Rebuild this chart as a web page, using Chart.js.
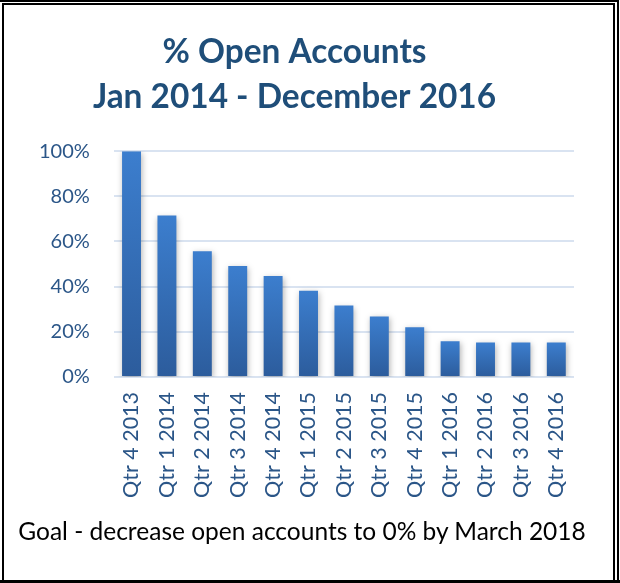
<!DOCTYPE html>
<html>
<head>
<meta charset="utf-8">
<script src="https://cdn.jsdelivr.net/npm/chart.js@4/dist/chart.umd.min.js"></script>
<style>
  html, body { margin: 0; padding: 0; background: #fff; }
  #wrap { position: relative; width: 620px; height: 583px; overflow: hidden; background: #fff; }
  #box { position: absolute; left: 0; top: 0; width: 620px; height: 583px; }
  .ln { position: absolute; background: #000; z-index: 5; }
  #footer { position: absolute; left: 0; width: 604px; top: 516px; text-align: center;
            font-family: Lato, "Open Sans", sans-serif; font-size: 24.5px; color: #000; white-space: nowrap; }
</style>
</head>
<body>
<div id="wrap">
  <div id="box"><canvas id="c" width="620" height="583"></canvas></div>
  <!-- outer frame pieces -->
  <div class="ln" style="left:0;top:0;width:619px;height:2px;"></div>
  <div class="ln" style="left:617px;top:0;width:2px;height:583px;"></div>
  <!-- inner frame -->
  <div class="ln" style="left:2px;top:3px;width:613px;height:2px;"></div>
  <div class="ln" style="left:2px;top:3px;width:2px;height:580px;"></div>
  <div class="ln" style="left:613px;top:3px;width:2px;height:580px;"></div>
  <div class="ln" style="left:0;top:580px;width:620px;height:3px;"></div>
  <div id="footer">Goal - decrease open accounts to 0% by March 2018</div>
</div>
<script>
const categories = ["Qtr 4 2013","Qtr 1 2014","Qtr 2 2014","Qtr 3 2014","Qtr 4 2014",
  "Qtr 1 2015","Qtr 2 2015","Qtr 3 2015","Qtr 4 2015","Qtr 1 2016","Qtr 2 2016","Qtr 3 2016","Qtr 4 2016"];
const openPct = [100, 71.5, 55.7, 49.1, 44.7, 38.2, 31.6, 26.8, 22.0, 15.8, 15.3, 15.3, 15.3];
const titleLines = ["% Open Accounts", "Jan 2014 - December 2016"];
const yTickStep = 20;

const shadowPlugin = {
  id: 'barShadow',
  beforeDatasetsDraw(chart) {
    const ctx = chart.ctx;
    ctx.save();
    ctx.shadowColor = 'rgba(0,0,0,0.30)';
    ctx.shadowBlur = 6;
    ctx.shadowOffsetX = 1;
    ctx.shadowOffsetY = 2;
  },
  afterDatasetsDraw(chart) {
    chart.ctx.restore();
  }
};

function barGradient(context) {
  const chart = context.chart;
  const ys = chart.scales.y;
  if (!ys || context.parsed === undefined || context.parsed === null) return '#3A7CCB';
  const top = ys.getPixelForValue(context.parsed.y);
  const base = ys.getPixelForValue(0);
  if (!isFinite(top) || !isFinite(base) || top === base) return '#3A7CCB';
  const g = chart.ctx.createLinearGradient(0, top, 0, base);
  g.addColorStop(0, '#3C7ECE');
  g.addColorStop(1, '#2C5C9C');
  return g;
}

new Chart(document.getElementById('c'), {
  type: 'bar',
  data: {
    labels: categories,
    datasets: [{
      data: openPct,
      backgroundColor: barGradient,
      borderWidth: 0,
      categoryPercentage: 1.0,
      barPercentage: 0.535
    }]
  },
  options: {
    responsive: false,
    animation: false,
    layout: { padding: { left: 15, right: 46, top: 30, bottom: 70 } },
    plugins: {
      legend: { display: false },
      tooltip: { enabled: false },
      title: {
        display: true,
        text: titleLines,
        color: '#1F4E79',
        font: { family: 'Lato', size: 33.4, weight: 'bold', lineHeight: 1.35 },
        padding: { top: 0, bottom: 31 }
      }
    },
    scales: {
      x: {
        grid: { display: false, drawTicks: false },
        border: { display: false },
        ticks: {
          color: '#2B5688',
          font: { family: 'Lato', size: 21.5 },
          minRotation: 90, maxRotation: 90,
          padding: 15,
          autoSkip: false
        }
      },
      y: {
        min: 0, max: 100,
        grid: { color: '#D9E3F1', lineWidth: 2, drawTicks: false },
        border: { display: false },
        ticks: {
          stepSize: yTickStep,
          color: '#2B5688',
          font: { family: 'Lato', size: 20 },
          padding: 24,
          callback: v => v + '%'
        }
      }
    }
  },
  plugins: [shadowPlugin]
});
</script>
</body>
</html>
